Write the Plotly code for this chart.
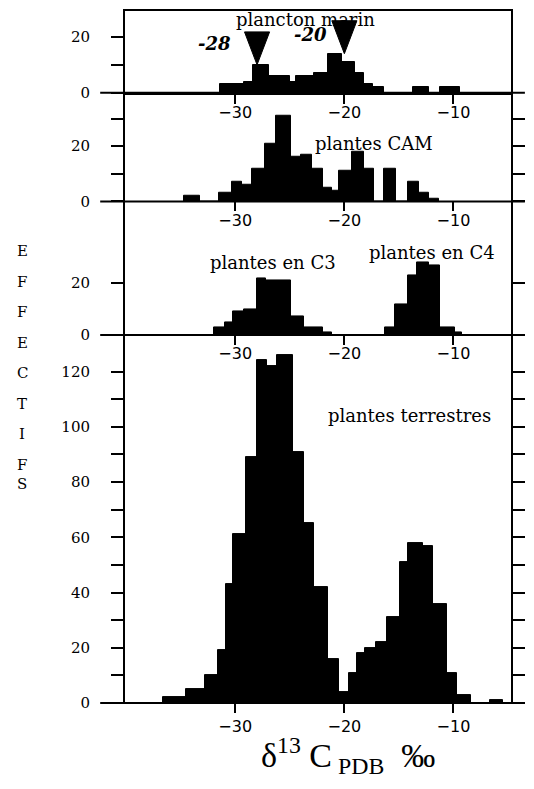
import plotly.graph_objects as go

# ---------------- data ----------------
# bin edges (δ13C, ‰) and counts per bin; zero counts mark gaps
plancton_edges = [-31.4, -29.2, -28.4, -26.9, -25.0, -24.4, -22.8, -21.5, -20.2,
                  -19.0, -18.2, -17.4, -16.4, -13.7, -12.2, -11.2, -9.4]
plancton_counts = [3, 4, 10, 6, 4, 6, 7, 14, 11, 7, 3, 2, 0, 2, 0, 2]

marker_values = [-28, -20]
marker_labels = ["-28", "-20"]

cam_edges = [-34.7, -33.2, -31.5, -30.3, -29.4, -28.5, -27.3, -26.3, -24.9, -24.0,
             -23.0, -22.0, -21.1, -20.5, -19.3, -18.2, -17.3, -16.4, -15.3, -14.2,
             -13.2, -12.2, -11.35]
cam_counts = [2, 0, 3, 7, 6, 12, 21, 31, 16, 17, 12, 5, 4, 11, 18, 12, 0, 12, 0, 7, 3, 1]

c3c4_edges = [-31.9, -30.9, -30.2, -29.2, -28.0, -27.2, -24.9, -23.7, -22.0, -21.1,
              -16.3, -15.4, -14.2, -13.3, -12.2, -11.2, -9.9, -9.2]
c3c4_counts = [3, 5, 9, 10, 22, 21, 7, 3, 1, 0, 3, 12, 23, 28, 27, 3, 1]

terr_edges = [-36.6, -34.5, -32.8, -31.6, -30.8, -30.2, -29.0, -28.0, -27.1, -26.2,
              -24.7, -23.7, -22.8, -21.5, -20.5, -19.6, -18.8, -18.1, -17.1, -16.1,
              -14.9, -14.2, -12.8, -11.9, -10.6, -9.7, -8.4, -6.7, -5.5]
terr_counts = [2, 5, 10, 19, 43, 61, 89, 124, 122, 126, 91, 65, 42, 16, 4, 11, 18,
               20, 22, 31, 51, 58, 57, 36, 11, 3, 0, 1]

x_ticks = [-30, -20, -10]
panel_names = ["plancton marin", "plantes CAM", "plantes en C3", "plantes en C4",
               "plantes terrestres"]
y_title = "EFFECTIFS"
NB = "\u00a0"
x_title = f"δ<sup>13</sup>{NB}C<sub>{NB}PDB</sub>{NB}{NB}‰"

# ---------------- layout geometry (screen pixels) ----------------
OFF = 8                      # default page margin around the figure
SW, SH = 534, 789            # window size
W, H = SW - 2 * OFF, SH - 2 * OFF
L, R, T, B = 125, 514, 9, 703
panel_px = [(9, 91), (91, 200), (200, 334), (334, 703)]
px_per_unit = [2.8, 2.77, 2.6, 2.77]
x_range = [-40.1, -4.73]


def xp(px):
    return (px - L) / (R - L)


def yp(py):
    return (B - py) / (B - T)


panels = [
    (plancton_edges, plancton_counts, [0, 10, 20], ["0", "", "20"]),
    (cam_edges, cam_counts, [0, 10, 20, 30], ["0", "", "20", ""]),
    (c3c4_edges, c3c4_counts, [0, 20], ["0", "20"]),
    (terr_edges, terr_counts, list(range(0, 130, 10)),
     [str(v) if v % 20 == 0 else "" for v in range(0, 130, 10)]),
]

fig = go.Figure()
layout = dict(
    width=W, height=H,
    margin=dict(l=L - OFF, r=W - (R - OFF), t=T - OFF, b=H - (B - OFF), pad=0),
    paper_bgcolor="white", plot_bgcolor="white",
    showlegend=False, bargap=0,
)

xtickfont = dict(family="DejaVu Sans", size=16, color="black")
ytickfont = dict(family="DejaVu Serif", size=15, color="black")

shapes = []
for i, (edges, counts, tv, tt) in enumerate(panels):
    sfx = "" if i == 0 else str(i + 1)
    lefts, rights = edges[:-1], edges[1:]
    centers = [(a + b) / 2 for a, b in zip(lefts, rights)]
    widths = [b - a for a, b in zip(lefts, rights)]
    fig.add_trace(go.Bar(
        x=centers, y=counts, width=widths,
        marker=dict(color="black", line=dict(color="black", width=1)),
        xaxis="x" + sfx, yaxis="y" + sfx, hoverinfo="skip",
    ))
    top, bot = panel_px[i]
    layout["xaxis" + sfx] = dict(
        domain=[0, 1], range=x_range, anchor="y" + sfx,
        tickvals=x_ticks, ticks="outside", ticklen=9,
        tickwidth=1.5, tickcolor="black", tickfont=xtickfont,
        ticklabelstandoff=(-5 if i < 3 else 0),
        showgrid=False, zeroline=False,
        showline=(i == 0), mirror=(i == 0), linewidth=2, linecolor="black",
    )
    layout["yaxis" + sfx] = dict(
        domain=[yp(bot), yp(top)], range=[0, (bot - top) / px_per_unit[i]],
        anchor="x" + sfx, tickvals=tv, ticktext=tt,
        ticks="outside", ticklen=12, tickwidth=1.5, tickcolor="black",
        tickfont=ytickfont, ticklabelstandoff=18,
        showgrid=False, zeroline=False,
        showline=True, linewidth=2, linecolor="black",
        mirror=("ticks" if i > 0 else True),
    )
    # extended baseline
    shapes.append(dict(type="line", xref="paper", yref="paper",
                       x0=xp(100), x1=xp(528), y0=yp(bot), y1=yp(bot),
                       line=dict(color="black", width=2)))

# marker triangles in the plankton panel
annotations = []
label_pos = [(-31.9, 17.5), (-23.1, 20.7)]
for v, lab, (lx, ly) in zip(marker_values, marker_labels, label_pos):
    tip = max(c for a, b, c in zip(plancton_edges[:-1], plancton_edges[1:], plancton_counts)
              if b > v - 0.5 and a < v + 0.5)
    path = f"M {v - 1.15},{tip + 11.8} L {v + 1.15},{tip + 11.8} L {v},{tip} Z"
    shapes.append(dict(type="path", path=path, xref="x", yref="y",
                       fillcolor="black", line=dict(color="black", width=1)))
    annotations.append(dict(x=lx, y=ly, xref="x", yref="y", text=lab, showarrow=False,
                            font=dict(family="DejaVu Serif", size=18, color="black",
                                      weight="bold", style="italic")))

lab_font = dict(family="DejaVu Serif", size=18, color="black")
name_pos = [("x", "y", -23.6, 26.4), ("x2", "y2", -17.3, 21.0),
            ("x3", "y3", -26.5, 27.8), ("x3", "y3", -12.0, 31.7),
            ("x4", "y4", -14.0, 104.0)]
for name, (xr, yr, nx, ny) in zip(panel_names, name_pos):
    annotations.append(dict(x=nx, y=ny, xref=xr, yref=yr, text=name, showarrow=False,
                            xanchor="center", font=lab_font))

# vertical stacked y-title letters
for k, ch in enumerate(y_title):
    annotations.append(dict(x=xp(21.7), y=yp(250 + k * 30.6), xref="paper", yref="paper",
                            text=ch, showarrow=False, xanchor="center",
                            font=dict(family="DejaVu Serif", size=15, color="black")))

# x title
annotations.append(dict(x=xp(350), y=yp(781), xref="paper", yref="paper",
                        text=x_title, showarrow=False, xanchor="center",
                        font=dict(family="Liberation Serif", size=34, color="black")))

layout["shapes"] = shapes
layout["annotations"] = annotations
fig.update_layout(**layout)
fig.write_html("out.html")
